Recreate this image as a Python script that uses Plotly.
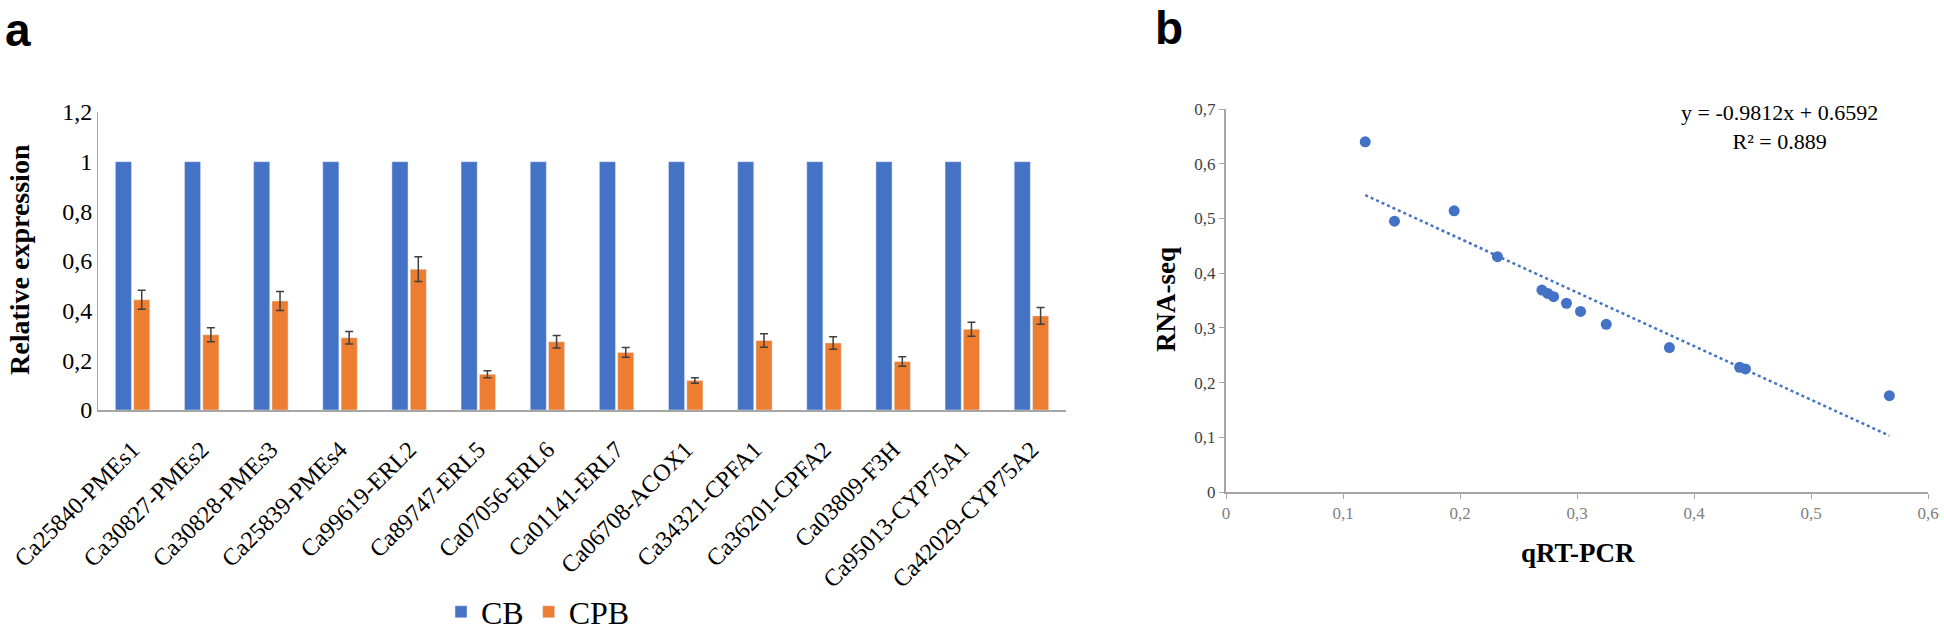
import plotly.graph_objects as go

W, H = 1944, 635

genes = ["Ca25840-PMEs1", "Ca30827-PMEs2", "Ca30828-PMEs3", "Ca25839-PMEs4",
         "Ca99619-ERL2", "Ca89747-ERL5", "Ca07056-ERL6", "Ca01141-ERL7",
         "Ca06708-ACOX1", "Ca34321-CPFA1", "Ca36201-CPFA2", "Ca03809-F3H",
         "Ca95013-CYP75A1", "Ca42029-CYP75A2"]
cb = [1, 1, 1, 1, 1, 1, 1, 1, 1, 1, 1, 1, 1, 1]
cpb = [0.444, 0.303, 0.439, 0.291, 0.567, 0.144, 0.275, 0.232,
       0.119, 0.280, 0.270, 0.195, 0.325, 0.379]
cpb_err = [0.038, 0.028, 0.038, 0.025, 0.050, 0.014, 0.025, 0.020,
           0.011, 0.027, 0.025, 0.019, 0.028, 0.034]

# panel b: qRT-PCR vs RNA-seq
qrt = [0.119, 0.144, 0.195, 0.232, 0.270, 0.275, 0.280, 0.291,
       0.303, 0.325, 0.379, 0.439, 0.444, 0.567]
rnaseq = [0.640, 0.495, 0.514, 0.430, 0.369, 0.363, 0.357, 0.345,
          0.330, 0.3065, 0.264, 0.228, 0.225, 0.176]
slope, intercept = -0.9812, 0.6592

BLUE = "#4472C4"
ORANGE = "#ED7D31"
SERIF = "Liberation Serif"
SANS = "Liberation Sans"

fig = go.Figure()
fig.add_trace(go.Bar(x=genes, y=cb, name="CB", marker_color=BLUE,
                     xaxis="x", yaxis="y"))
fig.add_trace(go.Bar(x=genes, y=cpb, name="CPB", marker_color=ORANGE,
                     error_y=dict(type="data", array=cpb_err, color="#404040",
                                  thickness=1.5, width=4),
                     xaxis="x", yaxis="y"))

fig.add_trace(go.Scatter(x=qrt, y=rnaseq, mode="markers",
                         marker=dict(color=BLUE, size=11),
                         showlegend=False, xaxis="x2", yaxis="y2"))
xfit = [min(qrt), max(qrt)]
yfit = [slope * v + intercept for v in xfit]
fig.add_trace(go.Scatter(x=xfit, y=yfit, mode="lines",
                         line=dict(color=BLUE, width=2.5, dash="dot"),
                         showlegend=False, xaxis="x2", yaxis="y2"))

def px_x(p):
    return p / W

def px_y(p):
    return 1 - p / H

fig.update_layout(
    width=W, height=H,
    margin=dict(l=0, r=0, t=0, b=0, autoexpand=False),
    paper_bgcolor="white", plot_bgcolor="white",
    barmode="group", bargap=0.47, bargroupgap=0.12,
    font=dict(family=SERIF, color="black"),
    xaxis=dict(domain=[px_x(98), px_x(1066)], showgrid=False, automargin=False,
               showline=True, linecolor="#A6A6A6", linewidth=2,
               tickangle=-45, tickfont=dict(size=24, color="black"),
               ticks="", ticklabelstandoff=14),
    yaxis=dict(domain=[px_y(410), px_y(112)], range=[0, 1.2], dtick=0.2,
               showgrid=False, showline=True, linecolor="#A6A6A6", linewidth=1,
               tickfont=dict(size=24, color="black"), zeroline=False,
               automargin=False, ticks=""),
    xaxis2=dict(domain=[px_x(1226), px_x(1928)], range=[0, 0.6], dtick=0.1,
                showgrid=False, showline=True, linecolor="#A6A6A6", linewidth=2,
                ticks="outside", ticklen=5, tickcolor="#A6A6A6", zeroline=False,
                tickfont=dict(size=17, color="#808080"), anchor="y2",
                automargin=False),
    yaxis2=dict(domain=[px_y(492), px_y(109)], range=[0, 0.7], dtick=0.1,
                showgrid=False, showline=True, linecolor="#A6A6A6", linewidth=2,
                ticks="outside", ticklen=5, tickcolor="#A6A6A6", zeroline=False,
                tickfont=dict(size=17, color="#404040"), anchor="x2",
                automargin=False),
    separators=", ",
    legend=dict(orientation="h", x=px_x(538), xanchor="center",
                y=px_y(612), yanchor="middle",
                font=dict(size=32, family=SERIF), itemwidth=30),
)

def label(text, x, y, size, angle=0, family=SERIF):
    fig.add_annotation(text=text, textangle=angle, x=px_x(x), y=px_y(y),
                       xref="paper", yref="paper", xanchor="center",
                       yanchor="middle", showarrow=False, align="center",
                       font=dict(size=size, family=family, color="black"))

label("<b>Relative expression</b>", 20, 260, 28, angle=-90)
label("<b>RNA-seq</b>", 1166, 300, 27, angle=-90)
label("<b>qRT-PCR</b>", 1578, 553, 27)
label("y = -0.9812x + 0.6592<br>R² = 0.889", 1779, 127, 22)
label("<b>a</b>", 18, 30, 46, family=SANS)
label("<b>b</b>", 1169, 28, 46, family=SANS)

fig.write_html("out.html", config={"displayModeBar": False},
               post_script="document.body.style.margin='0';")
